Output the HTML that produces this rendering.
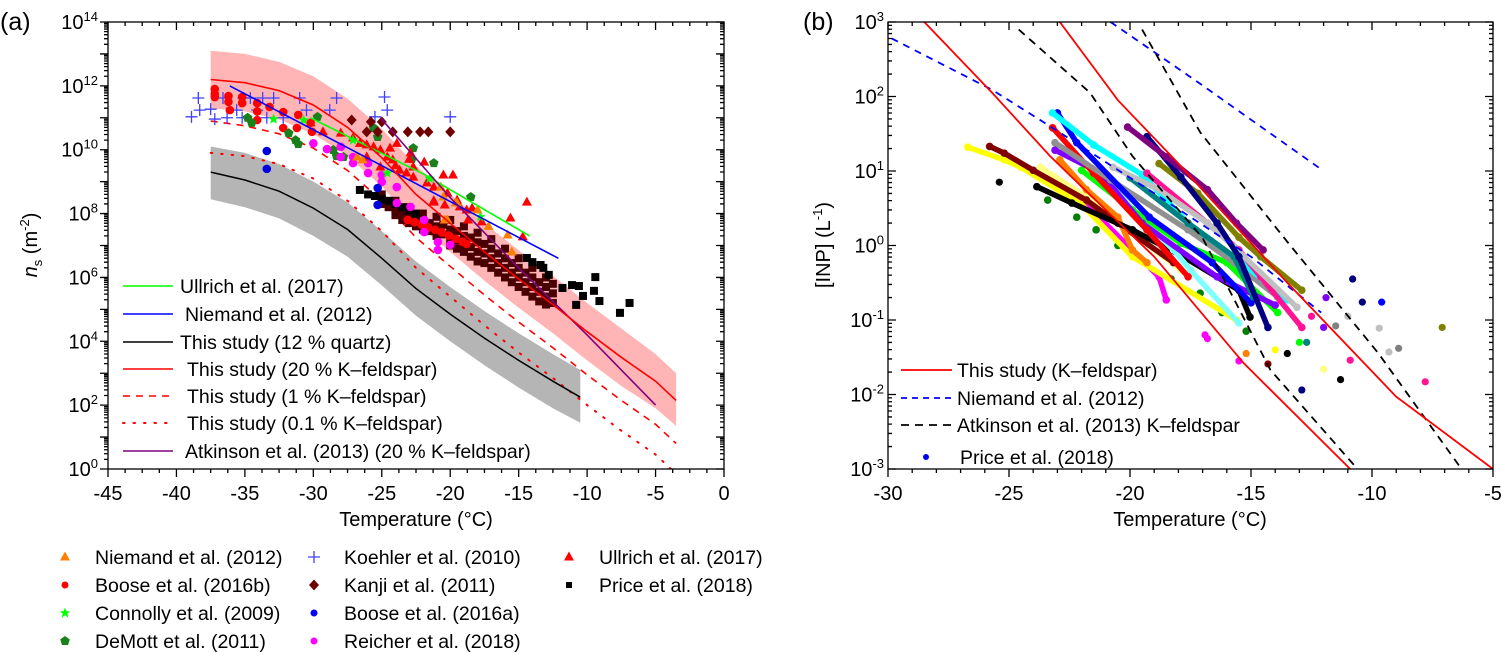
<!DOCTYPE html>
<html><head><meta charset="utf-8"><title>INP figure</title>
<style>
html,body{margin:0;padding:0;background:#fff;}
svg{display:block;font-family:"Liberation Sans",Arial,sans-serif;}
</style></head>
<body>
<svg id="fig" width="1501" height="652" viewBox="0 0 1501 652" xmlns="http://www.w3.org/2000/svg">
<defs>
<clipPath id="clipA"><rect x="108" y="22" width="616" height="447"/></clipPath>
<clipPath id="clipB"><rect x="888" y="22" width="605" height="447"/></clipPath>
</defs>
</svg>
<script>
// ---------- Panel (a) data ----------
const curveT = [-37.5,-35,-32.5,-30,-27.5,-25,-22.5,-20,-17.5,-15,-12.5,-10,-7.5,-5,-3.5];
const kf20L = [12.2,12.1,11.85,11.4,10.7,9.75,8.6,7.7,6.8,5.95,5.15,4.3,3.5,2.75,2.15];
const kf20Up = [13.1,13.0,12.75,12.3,11.6,10.65,9.5,8.6,7.7,6.85,6.05,5.2,4.4,3.6,3.0];
const kf20Lo = [11.3,11.2,10.95,10.5,9.8,8.85,7.7,6.8,5.9,5.05,4.25,3.4,2.6,1.9,1.35];
const kf1L = [10.9,10.75,10.5,10.05,9.35,8.4,7.25,6.35,5.45,4.6,3.8,2.95,2.15,1.4,0.8];
const kf01L = [9.9,9.8,9.55,9.1,8.4,7.45,6.3,5.4,4.5,3.65,2.85,2.0,1.2,0.45,-0.15];
const quartzT = [-37.5,-35,-32.5,-30,-27.5,-25,-22.5,-20,-17.5,-15,-12.5,-10.5];
const quartzL = [9.3,9.05,8.7,8.17,7.5,6.6,5.65,4.85,4.1,3.4,2.75,2.25];
const quartzUp = [10.1,9.9,9.55,9.0,8.35,7.45,6.5,5.7,4.95,4.25,3.6,3.1];
const quartzLo = [8.45,8.2,7.85,7.3,6.65,5.75,4.8,4.0,3.25,2.55,1.9,1.45];
const ullrichFitT = [-30.2,-22,-14.2];
const ullrichFitL = [11.0,9.25,7.3];
const niemandFitT = [-36.1,-12.1];
const niemandFitL = [12.0,6.6];
const atkinsonFitT = [-25.1,-20,-15,-10,-5];
const atkinsonFitL = [11.0,8.5,6.3,4.2,2.0];

const koehlerPts = [[-38.4,11.62],[-38.9,11.03],[-38.3,11.24],[-37.5,11.27],[-37.2,10.96],[-36.6,11.62],[-36.3,11.0],[-35.6,11.24],[-35.1,11.62],[-34.1,11.24],[-33.7,11.62],[-32.9,11.62],[-33.4,11.0],[-31,11.62],[-30.5,11.24],[-28.8,11.24],[-28.3,11.62],[-24.8,11.65],[-24.6,11.24],[-25.5,11.03],[-20,11.03],[-35.2,11.0],[-32.2,11.0],[-34.6,11.62]];
const boose16bPts = [[-37.2,11.9],[-37.2,11.65],[-36.2,11.68],[-36.2,11.5],[-35.2,11.65],[-35.2,11.46],[-36.1,11.24],[-34.1,11.46],[-34.1,10.93],[-33.2,11.34],[-32.2,11.18],[-32.2,10.68],[-31.2,10.68],[-31.1,11.09],[-30.2,10.84],[-30.1,10.56],[-37.2,11.75],[-34.1,11.2],[-23.1,7.8],[-22.6,7.73],[-22.1,7.66],[-21.6,7.57],[-21.1,7.49],[-20.6,7.41],[-20.1,7.31],[-19.6,7.21],[-19.1,7.12],[-18.8,7.05]];
const demottPts = [[-34.8,11.0],[-34.5,10.84],[-31.8,10.52],[-31.3,10.3],[-31.1,10.18],[-29.7,11.03],[-28.55,9.99],[-28.3,9.8],[-27.8,9.77],[-25.6,10.68],[-25.3,10.4],[-22.7,10.05],[-22.8,9.71],[-21.2,9.58],[-18.5,8.52]];
const kanjiPts = [[-27.2,10.93],[-25.8,10.87],[-25,10.87],[-26.1,10.56],[-25.3,10.56],[-24.2,10.56],[-23.1,10.56],[-22.2,10.56],[-21.6,10.56],[-20,10.56]];
const connollyPts = [[-32.9,10.96],[-30.7,10.93],[-27.1,10.3],[-24.6,9.27],[-21.5,9.1],[-17.8,7.9]];
const reicherPts = [[-30,10.2],[-29,10.02],[-28,10.09],[-28,9.77],[-27.1,9.77],[-27.1,9.58],[-26,9.58],[-26,9.27],[-25,9.21],[-25,8.99],[-23.9,8.83],[-23.9,8.33],[-22.9,8.21],[-21.9,7.8],[-21.9,7.42],[-20.9,7.11],[-20.9,6.86],[-20,7.02]];
const boose16aPts = [[-33.4,9.96],[-33.4,9.4],[-25.3,8.8],[-25.3,8.27]];
const ullrichPts = [[-30.2,10.84],[-29.3,10.56],[-28,10.52],[-27.1,10.37],[-26.6,10.2],[-26.1,10.15],[-25.6,10.09],[-25.1,9.99],[-24.6,9.77],[-24.2,9.68],[-23.7,9.36],[-23.2,9.27],[-22.7,9.14],[-21.9,9.61],[-21.7,8.96],[-21.2,8.83],[-20.5,9.21],[-20.2,8.64],[-19.8,9.21],[-19.5,8.42],[-18.8,8.11],[-17.7,7.74],[-24.4,10.05],[-26.1,9.77],[-25.1,9.46],[-22.7,9.46],[-21.2,8.36],[-23.9,10.2],[-22.9,9.9],[-14.4,8.36],[-15.6,7.86],[-14.7,7.27],[-18.7,7.8],[-18.4,8.17],[-19.3,8.21],[-20.4,8.27],[-21.2,8.4],[-24.0,9.5],[-23.0,9.7]];
const niemandPts = [[-26.8,9.77],[-26.4,9.68],[-20.7,8.83],[-20.5,8.52],[-19.5,8.33],[-20.2,7.8],[-18,8.11],[-20.4,7.8],[-19.6,8.33],[-15.8,7.33],[-15.5,6.8],[-17.2,7.6]];
const priceStripPts = [[-26.6,8.74],[-26,8.6],[-25.5,8.55],[-25,8.45],[-24.5,8.4],[-24,8.3],[-23.5,8.2],[-23,8.1],[-22.5,8.0],[-14.4,6.61],[-14,6.48],[-13.4,6.39],[-13.2,6.3],[-12.8,6.08],[-11.8,5.67],[-11.1,5.76],[-10.6,5.73],[-9.4,6.01],[-10.3,5.42],[-9.5,5.58],[-9.1,5.26],[-10.8,5.14],[-7.6,4.89],[-6.9,5.2]];
const priceDensePts = [[-25,8.6],[-25,8.3],[-24,8.4],[-24,8.1],[-24,7.95],[-23,8.2],[-23,7.9],[-23,7.7],[-22,8.0],[-22,7.7],[-22,7.5],[-21,7.9],[-21,7.6],[-21,7.3],[-20,7.8],[-20,7.5],[-20,7.2],[-20,7.0],[-19,7.6],[-19,7.3],[-19,7.0],[-19,6.8],[-18,7.4],[-18,7.1],[-18,6.8],[-18,6.5],[-17,7.2],[-17,6.9],[-17,6.6],[-17,6.3],[-16,6.9],[-16,6.6],[-16,6.3],[-16,6.0],[-15,6.6],[-15,6.3],[-15,6.0],[-15,5.7],[-14,6.3],[-14,6.0],[-14,5.7],[-14,5.4],[-13,6.0],[-13,5.7],[-13,5.4],[-13,5.15],[-12.5,5.8],[-12.5,5.5],[-12.5,5.2],[-24.5,8.2],[-23.5,8.0],[-23.5,7.8],[-22.5,7.8],[-22.5,7.6],[-21.5,7.7],[-21.5,7.45],[-20.5,7.65],[-20.5,7.35],[-19.5,7.45],[-19.5,7.15],[-19.5,6.9],[-18.5,7.25],[-18.5,6.95],[-18.5,6.65],[-17.5,7.05],[-17.5,6.75],[-17.5,6.45],[-16.5,6.75],[-16.5,6.45],[-16.5,6.15],[-15.5,6.45],[-15.5,6.15],[-15.5,5.85],[-14.5,6.15],[-14.5,5.85],[-14.5,5.55],[-13.5,5.85],[-13.5,5.55],[-13.5,5.25]];

const xTicksA = [-45,-40,-35,-30,-25,-20,-15,-10,-5,0];
const yExpA = [14,12,10,8,6,4,2,0];

// ---------- Panel (b) data ----------
const redLeftT = [-28.5,-25.7,-23.3,-19,-15.3,-10.9];
const redLeftL = [3,2.05,1.2,-0.15,-1.58,-3];
const redRightT = [-22.9,-20.5,-18,-13.5,-9,-5];
const redRightL = [3,1.95,1.1,-0.5,-2.03,-3];
const atkLeftT = [-24.6,-21.65,-19.9,-17,-14.2,-10.6];
const atkLeftL = [2.9,2.05,1.2,0.1,-1.67,-3];
const atkRightT = [-19.5,-17.1,-13.5,-9.75,-6.3];
const atkRightL = [2.9,1.52,0.05,-1.44,-3];
const niemLeftT = [-29.85,-25.7,-23.3,-19,-15,-12.1];
const niemLeftL = [2.78,2.09,1.6,0.7,-0.15,-0.9];
const niemRightT = [-20.8,-17.1,-12];
const niemRightL = [3,2.17,1.0];
const xTicksB = [-30,-25,-20,-15,-10,-5];
const yExpB = [3,2,1,0,-1,-2,-3];

const sCyan = [[-23.2,1.78],[-21.5,1.35],[-19.5,0.95],[-17.6,0.3],[-15.5,-0.2],[-13.5,-0.73]];
const sBlue = [[-23,1.78],[-22.2,1.38],[-19.2,0.38],[-16.6,-0.23],[-15,-0.77]];
const sRed = [[-23.2,1.58],[-21.5,0.97],[-19.3,0.21],[-17.6,-0.42]];
const sGray = [[-23.1,1.38],[-20.8,0.88],[-17.6,0.21],[-15.7,-0.23],[-13.9,-0.69]];
const sViolet = [[-23.1,1.28],[-21.2,0.97],[-19.5,0.3],[-16.4,-0.42],[-14,-0.8]];
const sTeal = [[-20,0.91],[-17.6,0.3],[-15.7,-0.15],[-14.9,-0.69]];
const sLightGray = [[-20.7,1.05],[-18.8,0.75],[-16.8,0.3],[-15.7,-0.02],[-13.1,-0.83]];
const sNavy = [[-19.3,1.46],[-17.9,0.92],[-16.4,0.3],[-15.5,-0.15],[-14.3,-1.1]];
const sPurple = [[-20.1,1.59],[-18.5,1.19],[-16.8,0.75],[-15.6,0.3],[-14.5,-0.06]];
const sOlive = [[-18.8,1.1],[-17.2,0.7],[-15.5,0.11],[-14.6,-0.15],[-12.9,-0.6]];
const sPink = [[-19.3,0.97],[-16.8,0.3],[-15.5,-0.06],[-14.6,-0.42],[-12.9,-1.1]];
const sLime = [[-22,1.01],[-19.9,0.48],[-17.9,0.03],[-16,-0.23],[-13.9,-0.9]];
const sLightCyan = [[-21.2,0.97],[-19.6,0.38],[-18.2,-0.06],[-17.5,-0.33],[-15.5,-1.04]];
const sBlack = [[-23.85,0.79],[-22.4,0.57],[-19.9,0.21],[-17.8,-0.15],[-15.5,-0.6],[-15.04,-0.96]];
const sOrange = [[-22.9,1.15],[-21.8,0.75],[-20.5,0.38],[-19.9,-0.06],[-19.3,-0.23]];
const sMaroon = [[-25.8,1.33],[-25.2,1.24],[-24,1.01],[-21.8,0.61],[-20.5,0.3],[-18.2,-0.23]];
const sYellow = [[-26.7,1.32],[-25.2,1.15],[-24.5,1.05],[-22,0.55],[-19.9,-0.15],[-15.6,-1.0]];
const sLightYellow = [[-23.7,1.05],[-21.8,0.65],[-19.9,0.17],[-17.9,-0.33]];
const sMagenta = [[-23.6,0.92],[-21.5,0.45],[-18.8,-0.42],[-18.5,-0.73]];
const sDarkGreenPts = [[-23.4,0.61],[-22.2,0.38],[-21.4,0.21],[-20.5,0.0],[-19.5,-0.2],[-18.3,-0.45],[-17.1,-0.64],[-16.2,-0.9],[-15.2,-1.15]];
const outlierPts = [[-10.8,-0.45,'#000080'],[-10.4,-0.76,'#000080'],[-9.6,-0.76,'#0000ff'],[-11.5,-1.08,'#808080'],[-9.7,-1.11,'#c0c0c0'],[-7.1,-1.1,'#808000'],[-12,-1.1,'#8000ff'],[-8.9,-1.38,'#808080'],[-9.3,-1.43,'#c0c0c0'],[-10.9,-1.54,'#ff1493'],[-7.8,-1.83,'#ff1493'],[-11.3,-1.8,'#000000'],[-12,-1.66,'#ffff80'],[-12.9,-1.94,'#000080'],[-14.3,-1.59,'#800000'],[-15.5,-1.55,'#ff00ff'],[-16.9,-1.2,'#ff00ff'],[-25.4,0.85,'#000000'],[-13,-1.3,'#00ff00'],[-13.5,-1.45,'#000000'],[-12.7,-1.3,'#008080'],[-14,-1.4,'#ffff00'],[-15.2,-1.45,'#ff8000'],[-16.8,-1.25,'#ff00ff'],[-12.5,-0.95,'#ff1493'],[-11.9,-0.7,'#8000ff'],[-11,-0.95,'#c0c0c0']];

// ---------- helpers ----------
const NS = 'http://www.w3.org/2000/svg';
const svg = document.getElementById('fig');
function mk(tag, attrs, parent) {
  const e = document.createElementNS(NS, tag);
  for (const k in attrs) e.setAttribute(k, attrs[k]);
  (parent || svg).appendChild(e);
  return e;
}
const xa = T => 108 + (T + 45) * 616 / 45;
const ya = L => 22 + (14 - L) * 447 / 14;
const xb = T => 888 + (T + 30) * 605 / 25;
const yb = L => 22 + (3 - L) * 447 / 6;

function pathFrom(Ts, Ls, fx, fy) {
  return Ts.map((t, i) => (i ? 'L' : 'M') + fx(t).toFixed(1) + ',' + fy(Ls[i]).toFixed(1)).join(' ');
}
function bandPath(Ts, up, lo, fx, fy) {
  let d = pathFrom(Ts, up, fx, fy);
  for (let i = Ts.length - 1; i >= 0; i--) d += ' L' + fx(Ts[i]).toFixed(1) + ',' + fy(lo[i]).toFixed(1);
  return d + ' Z';
}
function marker(g, type, cx, cy, color) {
  let e;
  if (type === 'circle') e = mk('circle', {cx, cy, r: 4.3, fill: color}, g);
  else if (type === 'square') e = mk('rect', {x: cx - 4, y: cy - 4, width: 8, height: 8, fill: color}, g);
  else if (type === 'tri') e = mk('polygon', {points: `${cx},${cy-5.5} ${cx-5},${cy+3.5} ${cx+5},${cy+3.5}`, fill: color}, g);
  else if (type === 'diamond') e = mk('polygon', {points: `${cx},${cy-5.5} ${cx+5},${cy} ${cx},${cy+5.5} ${cx-5},${cy}`, fill: color}, g);
  else if (type === 'plus') e = mk('path', {d: `M${cx-6},${cy}H${cx+6}M${cx},${cy-6}V${cy+6}`, stroke: color, 'stroke-width': 1.3, fill: 'none'}, g);
  else if (type === 'pent') e = mk('polygon', {points: `${cx},${cy-5} ${cx+4.8},${cy-1.5} ${cx+3},${cy+4} ${cx-3},${cy+4} ${cx-4.8},${cy-1.5}`, fill: color}, g);
  else if (type === 'star') e = mk('polygon', {points: `${cx},${cy-5.5} ${cx+1.5},${cy-1.7} ${cx+5.2},${cy-1.7} ${cx+2.3},${cy+0.8} ${cx+3.3},${cy+4.7} ${cx},${cy+2.4} ${cx-3.3},${cy+4.7} ${cx-2.3},${cy+0.8} ${cx-5.2},${cy-1.7} ${cx-1.5},${cy-1.7}`, fill: color}, g);
  return e;
}
function txt(parent, x, y, s, size, anchor) {
  const t = mk('text', {x, y, 'font-size': size, 'text-anchor': anchor || 'start', fill: '#000'}, parent);
  t.textContent = s;
  return t;
}
function expLabel(parent, x, y, exp, anchor) {
  const t = mk('text', {x, y, 'font-size': 20, 'text-anchor': anchor, fill: '#000'}, parent);
  const a = mk('tspan', {}, t); a.textContent = '10';
  const b = mk('tspan', {dy: -8, 'font-size': 13}, t); b.textContent = String(exp);
  return t;
}

// ---------- Panel labels ----------
const la = txt(svg, 0, 30, '(a)', 25);


const lb = txt(svg, 803, 30, '(b)', 25);



// ================= PANEL A =================
const gA = mk('g', {'clip-path': 'url(#clipA)'});



const pinkBand = mk('path', {d: bandPath(curveT, kf20Up, kf20Lo, xa, ya), fill: '#ffb5b5'}, gA);


const grayBand = mk('path', {d: bandPath(quartzT, quartzUp, quartzLo, xa, ya), fill: '#b5b5b5'}, gA);



const l1 = mk('path', {d: pathFrom(curveT, kf1L, xa, ya), stroke: '#ff0000', 'stroke-width': 1.6, fill: 'none', 'stroke-dasharray': '7,6'}, gA);


const l01 = mk('path', {d: pathFrom(curveT, kf01L, xa, ya), stroke: '#ff0000', 'stroke-width': 2, fill: 'none', 'stroke-dasharray': '1.5,9', 'stroke-linecap': 'round'}, gA);


const lq = mk('path', {d: pathFrom(quartzT, quartzL, xa, ya), stroke: '#000', 'stroke-width': 1.5, fill: 'none'}, gA);



function scatterA(pts, type, color, name) {
  const g = mk('g', {}, gA);
  
  
  pts.forEach(p => {
    const m = marker(g, type, xa(p[0]), ya(p[1]), color);
    
    
  });
}
scatterA(priceDensePts, 'square', '#4a0000', 'price-2018-dense-points');
scatterA(priceStripPts, 'square', '#000000', 'price-2018-points');
scatterA(koehlerPts, 'plus', '#4040ff', 'koehler-2010-points');
scatterA(boose16bPts, 'circle', '#ff0000', 'boose-2016b-points');
scatterA(demottPts, 'pent', '#1a801a', 'demott-2011-points');
scatterA(kanjiPts, 'diamond', '#700000', 'kanji-2011-points');
scatterA(reicherPts, 'circle', '#ff00ff', 'reicher-2018-points');
scatterA(boose16aPts, 'circle', '#0000e0', 'boose-2016a-points');
scatterA(ullrichPts, 'tri', '#ff0000', 'ullrich-2017-points');
scatterA(niemandPts, 'tri', '#ff8000', 'niemand-2012-points');
scatterA(connollyPts, 'star', '#00ff00', 'connolly-2009-points');

const lg = mk('path', {d: pathFrom(ullrichFitT, ullrichFitL, xa, ya), stroke: '#00ff00', 'stroke-width': 1.6, fill: 'none'}, gA);


const lbn = mk('path', {d: pathFrom(niemandFitT, niemandFitL, xa, ya), stroke: '#0000ff', 'stroke-width': 1.6, fill: 'none'}, gA);


const lp = mk('path', {d: pathFrom(atkinsonFitT, atkinsonFitL, xa, ya), stroke: '#800080', 'stroke-width': 1.6, fill: 'none'}, gA);


const lr = mk('path', {d: pathFrom(curveT, kf20L, xa, ya), stroke: '#ff0000', 'stroke-width': 1.6, fill: 'none'}, gA);



// axes A
const axA = mk('g', {stroke: '#000', 'stroke-width': 1.3, fill: 'none'});


const frameA = mk('rect', {x: 108, y: 22, width: 616, height: 447}, axA);


let dA = '';
for (let T = -45; T <= 0.01; T += 1.25) {
  const major = Math.abs(T % 5) < 0.01;
  const len = major ? 8 : 4;
  dA += `M${xa(T)},469v${len}M${xa(T)},22v${len}`;
}
for (let e = 0; e <= 14; e++) {
  dA += `M108,${ya(e)}h-8M724,${ya(e)}h-8`;
  if (e < 14) for (let k = 2; k <= 9; k++) { const y = ya(e + Math.log10(k)); dA += `M108,${y}h-4M724,${y}h-4`; }
}
const ticksA = mk('path', {d: dA}, axA);


const labA = mk('g', {});


xTicksA.forEach(T => {
  const t = txt(labA, xa(T), 500, String(T), 20, 'middle');
  
  
});
yExpA.forEach(e => {
  const t = expLabel(labA, 98, ya(e) + 7, e, 'end');
  
  
});
const xtA = txt(svg, 416, 526, 'Temperature (°C)', 20, 'middle');


const ytA = mk('text', {x: 0, y: 0, 'font-size': 20, 'text-anchor': 'middle', transform: 'translate(37,245) rotate(-90)'});


ytA.innerHTML = '<tspan font-style="italic">n</tspan><tspan font-size="13" dy="5">s</tspan><tspan dy="-5"> (m</tspan><tspan font-size="13" dy="-8">-2</tspan><tspan dy="8">)</tspan>';

// legend A (inside)
const legA = mk('g', {});


const legARows = [
  ['Ullrich et al. (2017)', '#00ff00', '', 180],
  ['Niemand et al. (2012)', '#0000ff', '', 185],
  ['This study (12 % quartz)', '#000000', '', 180],
  ['This study (20 % K\u2013feldspar)', '#ff0000', '', 187],
  ['This study (1 % K\u2013feldspar)', '#ff0000', '7,6', 187],
  ['This study (0.1 % K\u2013feldspar)', '#ff0000', '1.5,9', 187],
  ['Atkinson et al. (2013) (20 % K\u2013feldspar)', '#800080', '', 185]
];
const legAY = [286, 314, 342, 369, 396, 423, 451];
legARows.forEach((r, i) => {
  const g = mk('g', {}, legA);
  
  
  const a = {x1: 123, x2: 173, y1: legAY[i], y2: legAY[i], stroke: r[1], 'stroke-width': r[2] === '1.5,9' ? 2 : 1.6};
  if (r[2]) a['stroke-dasharray'] = r[2];
  if (r[2] === '1.5,9') a['stroke-linecap'] = 'round';
  mk('line', a, g);
  txt(g, r[3], legAY[i] + 7, r[0], 19.5);
});

// bottom marker legend
const legM = mk('g', {});


const legMItems = [
  ['tri', '#ff8000', 'Niemand et al. (2012)', 0, 0], ['circle', '#ff0000', 'Boose et al. (2016b)', 0, 1],
  ['star', '#00ff00', 'Connolly et al. (2009)', 0, 2], ['pent', '#1a801a', 'DeMott et al. (2011)', 0, 3],
  ['plus', '#4040ff', 'Koehler et al. (2010)', 1, 0], ['diamond', '#700000', 'Kanji et al. (2011)', 1, 1],
  ['circle', '#0000ff', 'Boose et al. (2016a)', 1, 2], ['circle', '#ff00ff', 'Reicher et al. (2018)', 1, 3],
  ['tri', '#ff0000', 'Ullrich et al. (2017)', 2, 0], ['square', '#000000', 'Price et al. (2018)', 2, 1]
];
const colMX = [65, 314, 569], colTX = [95, 344, 599], rowMY = [557, 585, 613, 641];
legMItems.forEach(it => {
  const g = mk('g', {}, legM);
  
  
  const m = marker(g, it[0], colMX[it[3]], rowMY[it[4]], it[1]);
  if (it[0] === 'circle') m.setAttribute('r', 3.5);
  if (it[0] === 'square') { m.setAttribute('width', 6); m.setAttribute('height', 6); m.setAttribute('x', colMX[it[3]] - 3); m.setAttribute('y', rowMY[it[4]] - 3); }
  txt(g, colTX[it[3]], rowMY[it[4]] + 7, it[2], 19.5);
});

// ================= PANEL B =================
const gB = mk('g', {'clip-path': 'url(#clipB)'});



const seriesB = [
  [sDarkGreenPts, '#008000', 'dots'],
  [sMagenta, '#ff00ff'], [sYellow, '#ffff00'], [sLightYellow, '#ffff80'], [sMaroon, '#800000'],
  [sOrange, '#ff8000'], [sBlack, '#000000'], [sLightCyan, '#80ffff'], [sLime, '#00ff00'],
  [sViolet, '#8000ff'], [sRed, '#ff0000'], [sGray, '#909090'], [sBlue, '#0000ff'], [sCyan, '#00ffff'],
  [sTeal, '#008080'], [sPink, '#ff1493'], [sLightGray, '#c0c0c0'], [sOlive, '#808000'],
  [sNavy, '#000080'], [sPurple, '#800080']
];
seriesB.forEach(s => {
  const g = mk('g', {}, gB);
  
  
  const Ts = s[0].map(p => p[0]), Ls = s[0].map(p => p[1]);
  if (s[2] !== 'dots') {
    const pl = mk('path', {d: pathFrom(Ts, Ls, xb, yb), stroke: s[1], 'stroke-width': 5.5, fill: 'none', 'stroke-linecap': 'round', 'stroke-linejoin': 'round'}, g);
    
    
  }
  s[0].forEach(p => {
    const c = mk('circle', {cx: xb(p[0]), cy: yb(p[1]), r: 3.8, fill: s[1]}, g);
    
    
  });
});
const gOut = mk('g', {}, gB);


outlierPts.forEach(p => {
  const c = mk('circle', {cx: xb(p[0]), cy: yb(p[1]), r: 3.6, fill: p[2]}, gOut);
  
  
});

function lineB(Ts, Ls, color, dash, name) {
  const a = {d: pathFrom(Ts, Ls, xb, yb), stroke: color, 'stroke-width': 1.8, fill: 'none'};
  if (dash) a['stroke-dasharray'] = dash;
  const e = mk('path', a, gB);
  
  
}
lineB(niemLeftT, niemLeftL, '#0000ff', '7,6', 'niemand-2012-lower-line');
lineB(niemRightT, niemRightL, '#0000ff', '7,6', 'niemand-2012-upper-line');
lineB(atkLeftT, atkLeftL, '#000000', '8,6', 'atkinson-2013-lower-line');
lineB(atkRightT, atkRightL, '#000000', '8,6', 'atkinson-2013-upper-line');
lineB(redLeftT, redLeftL, '#ff0000', '', 'this-study-kfeldspar-lower-line');
lineB(redRightT, redRightL, '#ff0000', '', 'this-study-kfeldspar-upper-line');

// axes B
const axB = mk('g', {stroke: '#000', 'stroke-width': 1.3, fill: 'none'});


const frameB = mk('rect', {x: 888, y: 22, width: 605, height: 447}, axB);


let dB = '';
for (let T = -30; T <= -5; T += 1) {
  const major = (T % 5) === 0;
  const len = major ? 8 : 4;
  dB += `M${xb(T)},469v${len}M${xb(T)},22v${len}`;
}
for (let e = -3; e <= 3; e++) {
  dB += `M888,${yb(e)}h8M1493,${yb(e)}h-8`;
  if (e < 3) for (let k = 2; k <= 9; k++) { const y = yb(e + Math.log10(k)); dB += `M888,${y}h4M1493,${y}h-4`; }
}
const ticksB = mk('path', {d: dB}, axB);


const labB = mk('g', {});


xTicksB.forEach(T => {
  const t = txt(labB, xb(T), 500, String(T), 20, 'middle');
  
  
});
yExpB.forEach(e => {
  const t = expLabel(labB, 884, yb(e) + 7, e, 'end');
  
  
});
const xtB = txt(svg, 1190, 526, 'Temperature (°C)', 20, 'middle');


const ytB = mk('text', {x: 0, y: 0, 'font-size': 20, 'text-anchor': 'middle', transform: 'translate(830,245) rotate(-90)'});


ytB.innerHTML = '<tspan>[INP] (L</tspan><tspan font-size="13" dy="-8">-1</tspan><tspan dy="8">)</tspan>';

// legend B
const legB = mk('g', {});


const legBRows = [
  ['This study (K\u2013feldspar)', '#ff0000', '', 370],
  ['Niemand et al. (2012)', '#0000ff', '6,5', 398],
  ['Atkinson et al. (2013) K\u2013feldspar', '#000000', '8,6', 425]
];
legBRows.forEach(r => {
  const g = mk('g', {}, legB);
  
  
  const a = {x1: 901, x2: 952, y1: r[3], y2: r[3], stroke: r[1], 'stroke-width': 1.8};
  if (r[2]) a['stroke-dasharray'] = r[2];
  mk('line', a, g);
  txt(g, 957, r[3] + 7, r[0], 19.5);
});
const gpl = mk('g', {}, legB);


mk('circle', {cx: 926, cy: 457, r: 3, fill: '#0000ff'}, gpl);
txt(gpl, 960, 464, 'Price et al. (2018)', 19.5);
</script>
</body></html>
